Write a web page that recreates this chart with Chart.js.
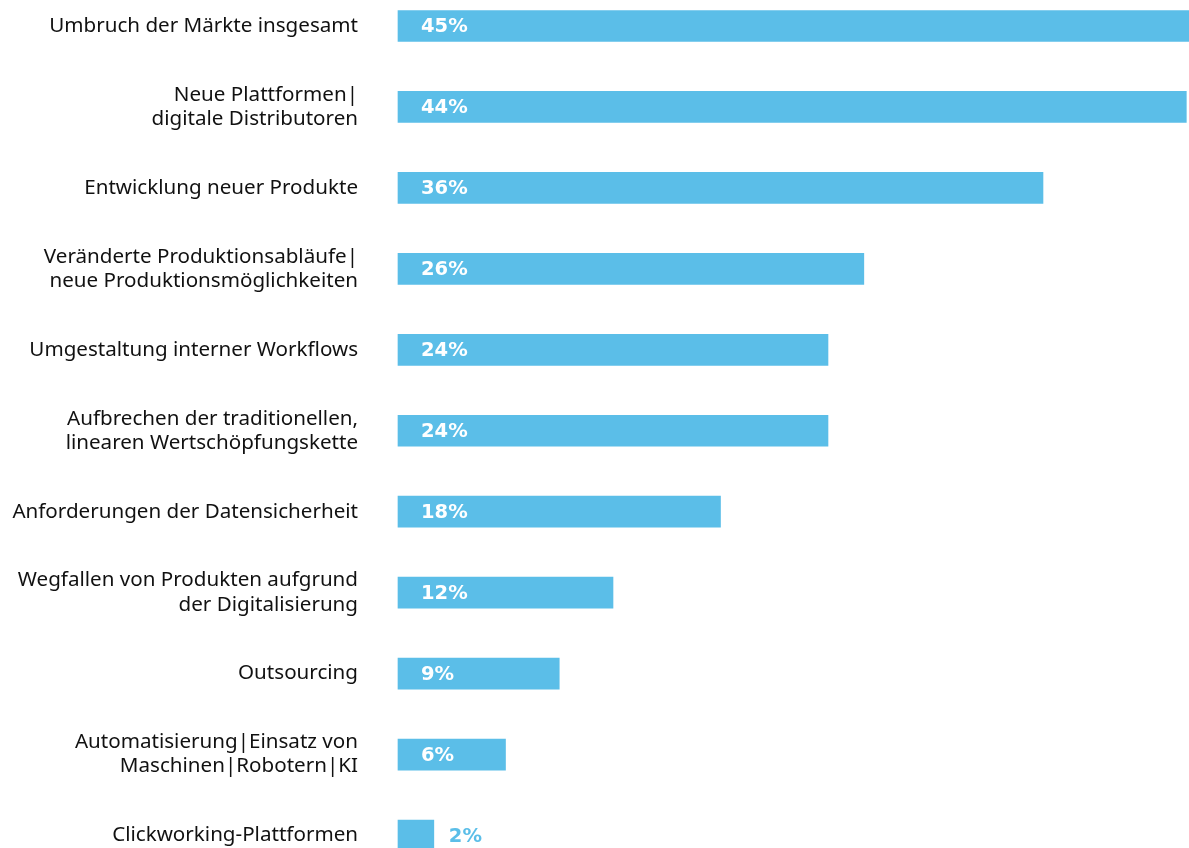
<!DOCTYPE html>
<html lang="de">
<head>
<meta charset="utf-8">
<script src="https://cdn.jsdelivr.net/npm/chart.js@4/dist/chart.umd.min.js"></script>
<style>
  html, body { margin: 0; padding: 0; background: #fff; }
  #wrap { width: 1189px; height: 848px; position: relative; }
</style>
</head>
<body>
<div id="wrap"><canvas id="chartGruende"></canvas></div>
<script>
// ================= DATEN =================

const kategorien = [
    "Umbruch der Märkte insgesamt",
    ["Neue Plattformen|", "digitale Distributoren"],
    "Entwicklung neuer Produkte",
    ["Veränderte Produktionsabläufe|", "neue Produktionsmöglichkeiten"],
    "Umgestaltung interner Workflows",
    ["Aufbrechen der traditionellen,", "linearen Wertschöpfungskette"],
    "Anforderungen der Datensicherheit",
    ["Wegfallen von Produkten aufgrund", "der Digitalisierung"],
    "Outsourcing",
    ["Automatisierung|Einsatz von", "Maschinen|Robotern|KI"],
    "Clickworking-Plattformen"
];

const anteile = [45, 44, 36, 26, 24, 24, 18, 12, 9, 6, 2];

const farbeBalken = "#5bbee8";

// ================= WERTE AN DEN BALKEN =================

const wertePlugin = {
    id: "werte",
    afterDatasetsDraw(chart) {
        const ctx = chart.ctx;
        const meta = chart.getDatasetMeta(0);
        ctx.save();
        ctx.font = "bold 19.5px 'DejaVu Sans'";
        ctx.textBaseline = "middle";
        ctx.textAlign = "left";
        meta.data.forEach((bar, i) => {
            const wert = anteile[i];
            const text = wert + "%";
            if (wert < 5) {
                // zu kurzer Balken: Wert daneben
                ctx.fillStyle = farbeBalken;
                ctx.fillText(text, bar.x + 15, bar.y + 1);
            } else {
                ctx.fillStyle = "#ffffff";
                ctx.fillText(text, bar.base + 23, bar.y + 1);
            }
        });
        ctx.restore();
    }
};

// ================= GRAFIK =================

const ctxGruende = document.getElementById("chartGruende").getContext("2d");

new Chart(ctxGruende, {
    type: "bar",
    data: {
        labels: kategorien,
        datasets: [{
            data: anteile,
            backgroundColor: farbeBalken,
            barThickness: 31,
            clip: false
        }]
    },
    options: {
        indexAxis: "y",
        responsive: true,
        maintainAspectRatio: false,
        animation: false,
        layout: {
            padding: { top: 26, bottom: 12.5, left: 0, right: 0 }
        },
        plugins: {
            legend: { display: false },
            tooltip: { enabled: false }
        },
        scales: {
            x: {
                display: false,
                min: 0,
                max: 44.15
            },
            y: {
                offset: false,
                grid: { display: false, drawTicks: false },
                border: { display: false },
                ticks: {
                    padding: 40,
                    color: "#111111",
                    font: { family: "'Noto Sans'", size: 20.6, lineHeight: 1.17 },
                    autoSkip: false
                },
                afterFit(scale) {
                    scale.width = 398;
                    scale.paddingTop = 0;
                    scale.paddingBottom = 0;
                }
            }
        }
    },
    plugins: [wertePlugin]
});
</script>
</body>
</html>
